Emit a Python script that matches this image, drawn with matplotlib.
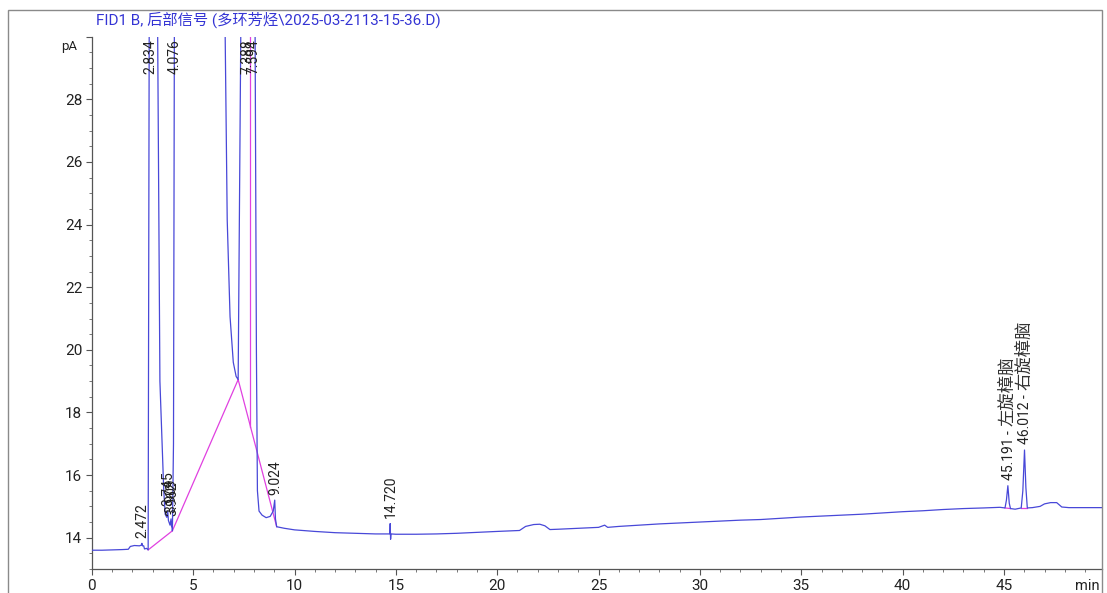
import matplotlib
matplotlib.use('Agg')
import matplotlib.pyplot as plt
from matplotlib.patches import Rectangle
from matplotlib.ticker import MultipleLocator, FixedLocator, FuncFormatter

plt.rcParams['font.family'] = ['Roboto', 'Noto Sans CJK SC', 'DejaVu Sans']

# ---------------- data ----------------
title_text = "FID1 B, 后部信号 (多环芳烃\\2025-03-2113-15-36.D)"

time_min = [0.00, 0.50, 1.00, 1.50, 1.80, 1.90, 2.10, 2.35, 2.44, 2.472, 2.50, 2.56, 2.60,
            2.70, 2.78, 2.834, 3.20, 3.25, 3.36, 3.55, 3.62, 3.70, 3.745, 3.78, 3.86,
            3.909, 3.935, 3.962, 3.975, 4.03, 4.076, 4.10, 6.50, 6.58, 6.68, 6.82,
            6.98, 7.12, 7.22, 7.36, 7.90, 8.05, 8.12, 8.17, 8.25, 8.40, 8.60, 8.80,
            8.95, 9.024, 9.06, 9.12, 9.50, 10.0, 11.0, 12.0, 13.0, 14.0, 14.70,
            14.72, 14.74, 14.76, 15.0, 16.0, 17.0, 18.0, 19.0, 20.0, 21.1, 21.4,
            21.8, 22.1, 22.35, 22.6, 23.0, 24.0, 25.0, 25.3, 25.45, 26.0, 27.0,
            28.0, 29.0, 30.0, 31.0, 32.0, 33.0, 34.0, 35.0, 36.0, 37.0, 38.0,
            39.0, 40.0, 41.0, 42.0, 43.0, 44.0, 44.8, 45.05, 45.12, 45.191, 45.26,
            45.32, 45.55, 45.85, 45.93, 46.012, 46.08, 46.15, 46.4, 46.78, 47.0,
            47.3, 47.6, 47.85, 48.2, 49.0, 49.82]
signal_pA = [13.60, 13.60, 13.61, 13.62, 13.63, 13.72, 13.75, 13.74, 13.76, 13.82, 13.74, 13.74, 13.64,
             13.66, 13.61, 31.0, 31.0, 30.0, 19.0, 15.5, 14.75, 14.65, 14.85, 14.55, 14.40,
             14.60, 14.35, 14.50, 14.22, 17.0, 31.0, 31.0, 31.0, 30.0, 24.15, 21.06,
             19.60, 19.15, 19.05, 31.0, 31.0, 31.0, 20.0, 15.5, 14.85, 14.72, 14.64, 14.68,
             14.85, 15.20, 14.60, 14.35, 14.30, 14.25, 14.20, 14.16, 14.14, 14.12, 14.12,
             14.45, 13.95, 14.12, 14.11, 14.11, 14.12, 14.14, 14.17, 14.20, 14.23, 14.36,
             14.42, 14.43, 14.38, 14.26, 14.27, 14.30, 14.33, 14.40, 14.33, 14.36, 14.40,
             14.44, 14.47, 14.50, 14.53, 14.56, 14.58, 14.62, 14.66, 14.69, 14.72, 14.75,
             14.79, 14.83, 14.86, 14.90, 14.93, 14.95, 14.97, 14.95, 15.20, 15.66, 15.10,
             14.93, 14.91, 14.95, 15.50, 16.80, 15.60, 14.95, 14.96, 15.00, 15.08,
             15.12, 15.12, 14.98, 14.96, 14.96, 14.96]

# labelled peaks
peak_rt = [2.472, 2.834, 3.745, 3.909, 3.962, 4.076, 7.388, 7.594, 9.024, 14.720, 45.191, 46.012]
peak_apex = [13.82, 30.0, 14.85, 14.60, 14.50, 30.0, 30.0, 30.0, 15.20, 14.45, 15.66, 16.80]
peak_names = ['', '', '', '', '', '', '', '', '', '', '左旋樟脑', '右旋樟脑']
offscale_peaks = [2.834, 4.076, 7.388, 7.594]

# integration baselines (start t, start pA, end t, end pA)
base_t0 = [2.78, 3.975, 7.22, 45.05, 45.85]
base_y0 = [13.61, 14.22, 19.05, 14.95, 14.95]
base_t1 = [3.975, 7.22, 9.12, 45.32, 46.15]
base_y1 = [14.22, 19.05, 14.35, 14.93, 14.95]
drop_t = [7.80]
drop_y = [17.55]

x_max = 49.82
y_min, y_max = 13.0, 30.0

# ---------------- figure ----------------
W, H = 1107, 593
fig = plt.figure(figsize=(W / 100, H / 100), dpi=100)
ax = fig.add_axes([91.8 / W, 1 - 569 / H, (1101.7 - 91.8) / W, (569 - 36.7) / H])
ax.set_facecolor('none')

trace_color = '#4848d8'
pink = '#e040e0'
label_line = '#c4b4ee'

# baselines and drop lines
for t0, y0, t1, y1 in zip(base_t0, base_y0, base_t1, base_y1):
    ax.plot([t0, t1], [y0, y1], color=pink, lw=0.9, zorder=2)
for t, y in zip(drop_t, drop_y):
    ax.plot([t, t], [y, 31], color=pink, lw=0.9, zorder=2)

ax.plot(time_min, signal_pA, color=trace_color, lw=0.9, zorder=3)

ax.set_xlim(0, x_max)
ax.set_ylim(y_min, y_max)

for s in ['top', 'right']:
    ax.spines[s].set_visible(False)
for s in ['left', 'bottom']:
    ax.spines[s].set_color('#555555')
    ax.spines[s].set_linewidth(0.9)
ax.spines['left'].set_bounds(y_min, y_max)
ax.spines['bottom'].set_bounds(0, x_max)

ax.xaxis.set_major_locator(MultipleLocator(5))
ax.xaxis.set_minor_locator(MultipleLocator(1))
ax.yaxis.set_major_locator(FixedLocator([14, 16, 18, 20, 22, 24, 26, 28, 30]))
ax.yaxis.set_minor_locator(MultipleLocator(0.5))
ax.yaxis.set_major_formatter(FuncFormatter(lambda v, p: '' if v >= 29.9 else f'{v:.0f}'))
ax.xaxis.set_major_formatter(FuncFormatter(lambda v, p: f'{v:.0f}' if v <= 45.5 else ''))

ax.tick_params(axis='both', which='major', direction='out', length=4.3, width=0.8,
               color='#555555', labelsize=11, labelcolor='#222222')
ax.tick_params(axis='both', which='minor', direction='out', length=2.2, width=0.7,
               color='#777777')
ax.tick_params(axis='x', which='major', pad=3)
ax.tick_params(axis='y', which='major', pad=2.5)

# axis unit labels
ax.annotate('pA', xy=(0, y_max), xycoords='data', xytext=(-10.5, -6.7),
            textcoords='offset points', ha='right', va='center', fontsize=9.5,
            color='#222222', annotation_clip=False)
ax.annotate('min', xy=(1, 0), xycoords='axes fraction', xytext=(-1.5, -7),
            textcoords='offset points', ha='right', va='top', fontsize=10.5,
            color='#222222', annotation_clip=False)

# title
fig.text(96 / W, 1 - 20 / H, title_text, color='#3434d4', fontsize=11,
         ha='left', va='center', family=['Roboto', 'Noto Sans CJK SC'])

# frame
fig.patches.append(Rectangle((8 / W, -0.05), (1102 - 8) / W, (1 - 10 / H) + 0.05,
                             transform=fig.transFigure, fill=False,
                             edgecolor='#8a8a8a', lw=1.0))

# peak labels
fig.canvas.draw()
renderer = fig.canvas.get_renderer()
label_shift = {7.388: 4.0, 7.594: 5.5}
for rt, apex, name in zip(peak_rt, peak_apex, peak_names):
    dx = label_shift.get(rt, 0.5)
    txt = f'{rt:.3f}'
    if rt in offscale_peaks:
        ax.annotate(txt, xy=(rt, y_max), xytext=(dx, -2), textcoords='offset points',
                    rotation=90, ha='center', va='top', fontsize=10, color='#222222',
                    annotation_clip=False, zorder=5)
    else:
        if name:
            txt = txt + ' - '
        t = ax.annotate(txt, xy=(rt, apex), xytext=(dx, 4), textcoords='offset points',
                        rotation=90, ha='center', va='bottom', fontsize=10,
                        color='#222222', annotation_clip=False, zorder=5)
        if name:
            bb = t.get_window_extent(renderer)
            h_pts = bb.height * 72 / fig.dpi
            ax.annotate(name, xy=(rt, apex), xytext=(dx - 0.5, 4 + h_pts + 1),
                        textcoords='offset points', rotation=90, ha='center',
                        va='bottom', fontsize=12.5, color='#333333',
                        family=['Noto Sans CJK SC'], annotation_clip=False, zorder=5)

fig.savefig('out.png', dpi=100)
